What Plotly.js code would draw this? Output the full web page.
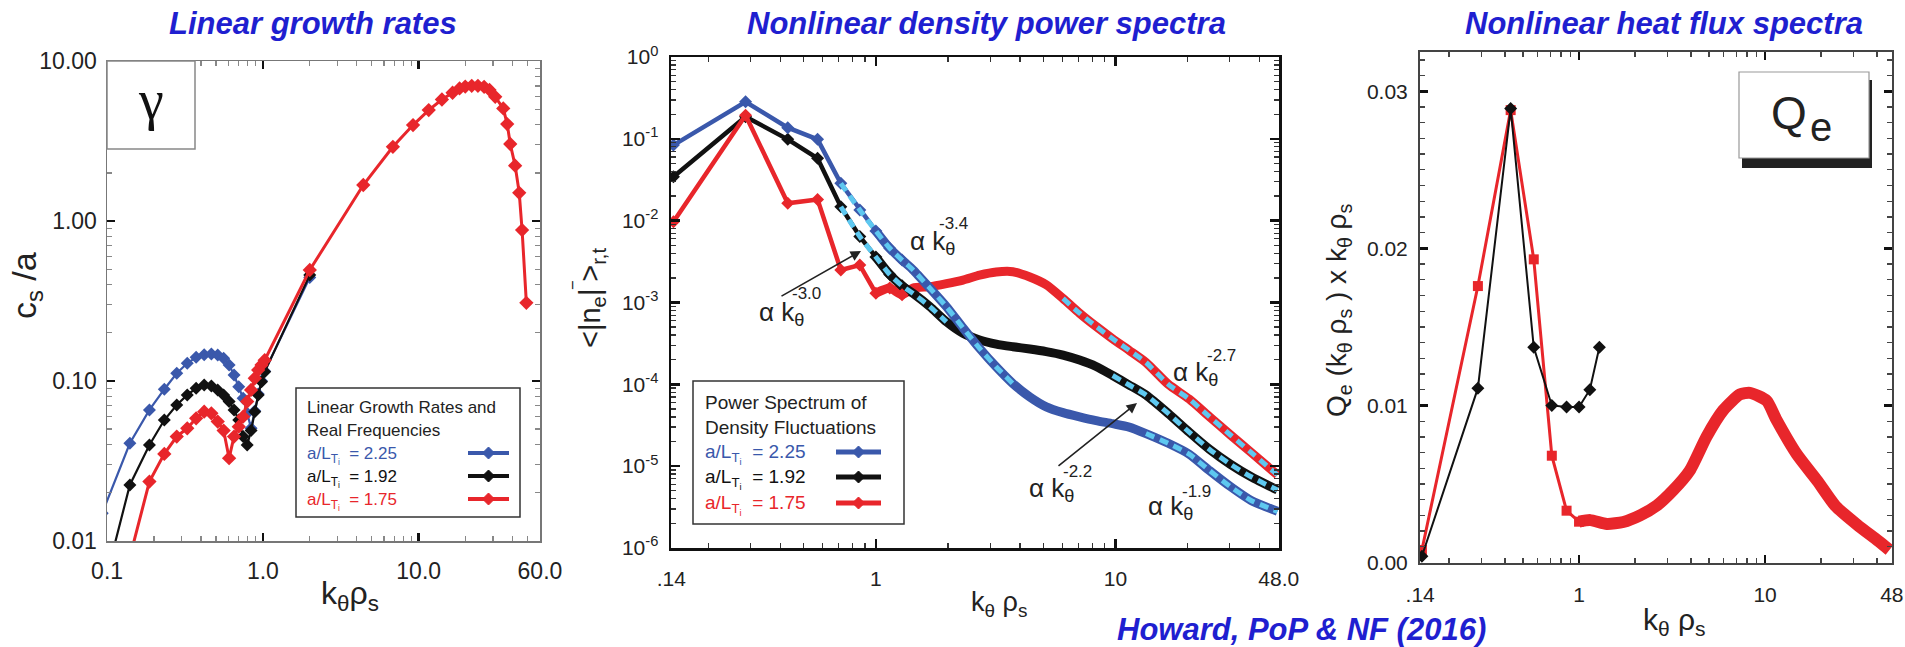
<!DOCTYPE html>
<html><head><meta charset="utf-8">
<script src="https://cdn.plot.ly/plotly-3.0.1.min.js"></script>
<style>html,body{margin:0;padding:0;background:#fff;}#chart{width:1905px;height:647px;}</style>
</head><body><div id="chart"></div>
<script>
// ---------- Panel 1: linear growth rates ----------
const k1 = [0.093, 0.14, 0.187, 0.233, 0.28, 0.327, 0.373, 0.42, 0.467, 0.513, 0.56, 0.607, 0.653, 0.70, 0.747, 0.793, 0.84, 0.887, 0.933, 0.98, 1.027, 2.0];
const gamma225 = [0.0149, 0.0408, 0.0659, 0.0888, 0.1117, 0.129, 0.1407, 0.146, 0.1475, 0.1454, 0.1386, 0.126, 0.109, 0.092, 0.078, 0.0628, 0.0506, 0.065, 0.083, 0.100, 0.115, 0.443];
const gamma192 = [0.0047, 0.0224, 0.0398, 0.057, 0.0708, 0.0818, 0.090, 0.0944, 0.093, 0.0879, 0.0818, 0.0743, 0.0659, 0.057, 0.0449, 0.0398, 0.049, 0.0643, 0.0818, 0.099, 0.114, 0.46];
const k1Red = [0.14, 0.187, 0.233, 0.28, 0.327, 0.373, 0.42, 0.467, 0.513, 0.56, 0.607, 0.653, 0.70, 0.747, 0.793, 0.84, 0.887, 0.933, 0.98, 1.027, 2.0, 4.41, 6.83, 9.2, 11.6, 14.1, 16.5, 18.3, 19.9, 21.9, 24.0, 26.3, 28.5, 31.0, 34.9, 37.0, 38.7, 41.6, 44.2, 46.1, 49.1];
const gamma175 = [0.0079, 0.0235, 0.035, 0.0449, 0.0506, 0.0584, 0.0643, 0.0628, 0.0557, 0.049, 0.0329, 0.0449, 0.0518, 0.0598, 0.0743, 0.0879, 0.104, 0.117, 0.126, 0.135, 0.494, 1.68, 2.91, 3.98, 4.94, 5.75, 6.34, 6.75, 6.93, 7.0, 7.0, 6.9, 6.6, 5.98, 5.06, 4.04, 3.03, 2.22, 1.50, 0.878, 0.308];

// ---------- Panel 2: density power spectra ----------
const k2Low = [0.143, 0.286, 0.429, 0.571, 0.714, 0.857, 1.0, 1.143, 1.286];
const n225Low = [0.084, 0.284, 0.137, 0.0987, 0.0286, 0.0135, 0.0075, 0.0046, 0.0033];
const n192Low = [0.0345, 0.187, 0.0987, 0.0578, 0.0148, 0.0064, 0.0036, 0.0022, 0.0016];
const n175Low = [0.0097, 0.195, 0.0163, 0.0182, 0.0025, 0.00287, 0.0013, 0.0015, 0.00124];
const k2Hi = [1.43, 1.68, 1.97, 2.31, 2.71, 3.18, 3.73, 4.39, 5.14, 6.04, 7.08, 8.3, 9.73, 11.4, 13.4, 16.6, 20.3, 24.7, 30.2, 36.8, 47.4];
const n225Hi = [0.0025, 0.0015, 0.00089, 0.00049, 0.000275, 0.000163, 0.000102, 7.0e-5, 5.3e-5, 4.5e-5, 4.0e-5, 3.6e-5, 3.3e-5, 3.0e-5, 2.5e-5, 1.9e-5, 1.4e-5, 8.8e-6, 5.6e-6, 3.8e-6, 2.8e-6];
const n192Hi = [0.00129, 0.00089, 0.00058, 0.00042, 0.000348, 0.00031, 0.000288, 0.00027, 0.000251, 0.000228, 0.000198, 0.000165, 0.000128, 9.8e-5, 7.4e-5, 4.4e-5, 2.6e-5, 1.6e-5, 1.05e-5, 7.4e-6, 5.1e-6];
const n175Hi = [0.0015, 0.00156, 0.0017, 0.00188, 0.00216, 0.00236, 0.00238, 0.00205, 0.00165, 0.00112, 0.00074, 0.00051, 0.00036, 0.00026, 0.000185, 0.0001, 6.6e-5, 4.0e-5, 2.4e-5, 1.47e-5, 7.8e-6];
// k ranges of the dashed power-law fits
const fitRanges = {blueA:[0.7,3.8], blueB:[13,48], blackA:[0.7,2.0], blackB:[9.5,48], redA:[6.0,48]};

// ---------- Panel 3: heat flux spectra ----------
const k3Black = [0.143, 0.286, 0.429, 0.571, 0.714, 0.857, 1.0, 1.143, 1.286];
const qBlack = [0.0004, 0.0111, 0.0289, 0.0137, 0.0100, 0.0099, 0.0099, 0.0110, 0.0137];
const k3RedLow = [0.143, 0.286, 0.429, 0.571, 0.714, 0.857, 1.0];
const qRedLow = [0.0008, 0.0176, 0.0288, 0.0193, 0.0068, 0.0033, 0.0026];
const k3RedHi = [1.0, 1.15, 1.41, 1.73, 2.13, 2.62, 3.20, 3.94, 4.84, 5.96, 7.33, 8.3, 10.2, 11.5, 14.8, 19.1, 23.9, 31.3, 40.3, 46.6];
const qRedHi = [0.0026, 0.0027, 0.00246, 0.00258, 0.0030, 0.00363, 0.00459, 0.00586, 0.0080, 0.0097, 0.0107, 0.0108, 0.0103, 0.0091, 0.0069, 0.0052, 0.0036, 0.0024, 0.0014, 0.0008];

// ---------- labels ----------
const titles = ['Linear growth rates', 'Nonlinear density power spectra', 'Nonlinear heat flux spectra'];
const citation = 'Howard, PoP & NF (2016)';
const caseLabels = ['a/L<sub>T<sub>i</sub></sub>  = 2.25', 'a/L<sub>T<sub>i</sub></sub>  = 1.92', 'a/L<sub>T<sub>i</sub></sub>  = 1.75'];
const ticks1x = [0.1, 1, 10, 60], ticks1xText = ['0.1', '1.0', '10.0', '60.0'];
const ticks1y = [0.01, 0.1, 1, 10], ticks1yText = ['0.01', '0.10', '1.00', '10.00'];
const ticks2x = [0.14, 1, 10, 48], ticks2xText = ['.14', '1', '10', '48.0'];
const ticks2y = [1e-6, 1e-5, 1e-4, 1e-3, 1e-2, 1e-1, 1], ticks2yText = ['10<sup>-6</sup>','10<sup>-5</sup>','10<sup>-4</sup>','10<sup>-3</sup>','10<sup>-2</sup>','10<sup>-1</sup>','10<sup>0</sup>'];
const ticks3x = [0.14, 1, 10, 48], ticks3xText = ['.14', '1', '10', '48'];
const ticks3y = [0, 0.01, 0.02, 0.03], ticks3yText = ['0.00', '0.01', '0.02', '0.03'];

// ---------- helpers ----------
const W = 1905, H = 647;
const fx = p => p / W, fy = p => 1 - p / H;
const BLUE = '#3a58ab', RED = '#e8262b', BLACK = '#111111', LBLUE = '#5ec8f0', TBLUE = '#1f1fd0';
const FONT = 'Liberation Sans, Arial, sans-serif';
function logMinor(decMin, decMax) { const v = []; for (let d = decMin; d <= decMax; d++) for (let m = 2; m <= 9; m++) v.push(m * Math.pow(10, d)); return v; }
function seg(ks, vs, r) { const x = [], y = []; ks.forEach((k, i) => { if (k >= r[0] && k <= r[1]) { x.push(k); y.push(vs[i]); } }); return {x, y}; }
const lin3Minor = []; for (let i = 1; i <= 32; i++) if (i % 10) lin3Minor.push(i / 1000);

const traces = [];
// Panel 1
[[k1, gamma225, BLUE, 2.2, 10], [k1, gamma192, BLACK, 2.2, 10], [k1Red, gamma175, RED, 3, 11]].forEach(([x, y, c, w, s]) => {
  traces.push({x, y, xaxis: 'x', yaxis: 'y', type: 'scatter', mode: 'lines+markers',
    line: {color: c, width: w}, marker: {symbol: 'diamond', size: s, color: c}});
});
// Panel 2 bands (dense part)
const k2Band = k2Low.slice(6).concat(k2Hi);
[[n175Low, n175Hi, RED], [n192Low, n192Hi, BLACK], [n225Low, n225Hi, BLUE]].forEach(([lo, hi, c]) => {
  traces.push({x: k2Band, y: lo.slice(6).concat(hi), xaxis: 'x2', yaxis: 'y2', type: 'scatter', mode: 'lines',
    line: {color: c, width: 9, shape: 'spline', smoothing: 0.6}});
});
[[n192Low, BLACK], [n225Low, BLUE], [n175Low, RED]].forEach(([lo, c]) => {
  traces.push({x: k2Low, y: lo, xaxis: 'x2', yaxis: 'y2', type: 'scatter', mode: 'lines+markers',
    line: {color: c, width: 4.5}, marker: {symbol: 'diamond', size: 10, color: c}});
});
const k2All = k2Low.concat(k2Hi);
const fits = [seg(k2All, n225Low.concat(n225Hi), fitRanges.blueA), seg(k2All, n225Low.concat(n225Hi), fitRanges.blueB),
  seg(k2All, n192Low.concat(n192Hi), fitRanges.blackA), seg(k2All, n192Low.concat(n192Hi), fitRanges.blackB),
  seg(k2All, n175Low.concat(n175Hi), fitRanges.redA)];
fits.forEach(f => traces.push({x: f.x, y: f.y, xaxis: 'x2', yaxis: 'y2', type: 'scatter', mode: 'lines',
  line: {color: LBLUE, width: 5, dash: '9px,6px', shape: 'spline', smoothing: 0.6}}));
// Panel 3
traces.push({x: k3RedHi, y: qRedHi, xaxis: 'x3', yaxis: 'y3', type: 'scatter', mode: 'lines',
  line: {color: RED, width: 12, shape: 'spline', smoothing: 0.6}});
traces.push({x: k3RedLow, y: qRedLow, xaxis: 'x3', yaxis: 'y3', type: 'scatter', mode: 'lines+markers',
  line: {color: RED, width: 3}, marker: {symbol: 'square', size: 10, color: RED}});
traces.push({x: k3Black, y: qBlack, xaxis: 'x3', yaxis: 'y3', type: 'scatter', mode: 'lines+markers',
  line: {color: BLACK, width: 2}, marker: {symbol: 'diamond', size: 10, color: BLACK}});

function axis(o) {
  return Object.assign({showgrid: false, zeroline: false, showline: true, mirror: 'ticks', ticks: 'inside',
    tickmode: 'array', fixedrange: true}, o);
}
const L = Math.log10;
const layout = {
  width: W, height: H, margin: {l: 0, r: 0, t: 0, b: 0}, showlegend: false,
  paper_bgcolor: '#fff', plot_bgcolor: '#fff', font: {family: FONT, color: '#222'},
  xaxis: axis({domain: [fx(107), fx(540)], anchor: 'y', type: 'log', range: [-1.0005, L(60) + 0.0005],
    tickvals: ticks1x, ticktext: ticks1xText, ticklen: 8, tickwidth: 2.5, tickcolor: '#111', linecolor: '#777', linewidth: 1.5,
    tickfont: {size: 23, color: '#222'}, ticklabelstandoff: 9,
    minor: {tickmode: 'array', tickvals: logMinor(-1, 1).filter(v => v < 60), ticks: 'inside', ticklen: 5, tickwidth: 1.3, tickcolor: '#888'}}),
  yaxis: axis({domain: [fy(541), fy(61)], anchor: 'x', type: 'log', range: [-2.0005, 1.0005],
    tickvals: ticks1y, ticktext: ticks1yText, ticklen: 8, tickwidth: 2.5, tickcolor: '#111', linecolor: '#777', linewidth: 1.5,
    tickfont: {size: 23, color: '#222'}, ticklabelstandoff: 4,
    minor: {tickmode: 'array', tickvals: logMinor(-2, 0), ticks: 'inside', ticklen: 5, tickwidth: 1.3, tickcolor: '#888'}}),
  xaxis2: axis({domain: [fx(671), fx(1279)], anchor: 'y2', type: 'log', range: [L(0.14) - 0.001, L(48) + 0.001],
    tickvals: ticks2x, ticktext: ticks2xText, ticklen: 9, tickwidth: 2.5, tickcolor: '#111', linecolor: '#111', linewidth: 2.5,
    tickfont: {size: 21, color: '#222'}, ticklabelstandoff: 10,
    minor: {tickmode: 'array', tickvals: logMinor(-1, 1).filter(v => v > 0.14 && v < 48), ticks: 'inside', ticklen: 5, tickwidth: 1.3, tickcolor: '#333'}}),
  yaxis2: axis({domain: [fy(548), fy(57)], anchor: 'x2', type: 'log', range: [-6.001, 0.001],
    tickvals: ticks2y, ticktext: ticks2yText, ticklen: 9, tickwidth: 2.5, tickcolor: '#111', linecolor: '#111', linewidth: 2.5,
    tickfont: {size: 21, color: '#222'}, ticklabelstandoff: 6,
    minor: {tickmode: 'array', tickvals: logMinor(-6, -1), ticks: 'inside', ticklen: 5, tickwidth: 1.3, tickcolor: '#333'}}),
  xaxis3: axis({domain: [fx(1420), fx(1892)], anchor: 'y3', type: 'log', range: [L(0.14) - 0.001, L(48) + 0.001],
    tickvals: ticks3x, ticktext: ticks3xText, ticklen: 8, tickwidth: 2.5, tickcolor: '#111', linecolor: '#444', linewidth: 2,
    tickfont: {size: 21, color: '#222'}, ticklabelstandoff: 12,
    minor: {tickmode: 'array', tickvals: logMinor(-1, 1).filter(v => v > 0.14 && v < 48), ticks: 'inside', ticklen: 5, tickwidth: 1.3, tickcolor: '#444'}}),
  yaxis3: axis({domain: [fy(563), fy(52)], anchor: 'x3', type: 'linear', range: [-0.00003, 0.0325],
    tickvals: ticks3y, ticktext: ticks3yText, ticklen: 8, tickwidth: 2.5, tickcolor: '#111', linecolor: '#444', linewidth: 2,
    tickfont: {size: 21, color: '#222'}, ticklabelstandoff: 6,
    minor: {tickmode: 'array', tickvals: lin3Minor, ticks: 'inside', ticklen: 5, tickwidth: 1.3, tickcolor: '#444'}}),
  annotations: [], shapes: []
};

function ann(text, x, y, o) {
  layout.annotations.push(Object.assign({text, x: fx(x), y: fy(y), xref: 'paper', yref: 'paper', showarrow: false,
    xanchor: 'center', yanchor: 'middle', font: {family: FONT, size: 20, color: '#222'}}, o || {}));
}
function rect(x0, y0, x1, y1, line, fill) {
  layout.shapes.push({type: 'rect', xref: 'paper', yref: 'paper', x0: fx(x0), x1: fx(x1), y0: fy(y1), y1: fy(y0),
    line: line, fillcolor: fill || 'rgba(0,0,0,0)', layer: 'above'});
}
function sample(x0, x1, y, c, w) {
  layout.shapes.push({type: 'line', xref: 'paper', yref: 'paper', x0: fx(x0), x1: fx(x1), y0: fy(y), y1: fy(y), line: {color: c, width: w}, layer: 'above'});
  const cx = (x0 + x1) / 2, s = 6;
  layout.shapes.push({type: 'path', xref: 'paper', yref: 'paper', layer: 'above', fillcolor: c, line: {color: c, width: 1},
    path: `M ${fx(cx)} ${fy(y - s)} L ${fx(cx + s)} ${fy(y)} L ${fx(cx)} ${fy(y + s)} L ${fx(cx - s)} ${fy(y)} Z`});
}

// Titles
const tfont = {family: FONT, size: 31, color: TBLUE};
ann('<b><i>' + titles[0] + '</i></b>', 313, 23, {font: tfont});
ann('<b><i>' + titles[1] + '</i></b>', 986, 23, {font: tfont});
ann('<b><i>' + titles[2] + '</i></b>', 1664, 23, {font: tfont});
ann('<b><i>' + citation + '</i></b>', 1301, 629, {font: tfont});

// Axis titles
ann('k<sub>θ</sub>ρ<sub>s</sub>', 350, 595, {font: {family: FONT, size: 32, color: '#222'}});
ann('c<sub>s</sub> /a', 27, 286, {textangle: -90, font: {family: FONT, size: 34, color: '#222'}});
ann('k<sub>θ</sub> ρ<sub>s</sub>', 999, 604, {font: {family: FONT, size: 27, color: '#222'}});
ann('<|n<sub>e</sub>|<sup>‾</sup>><sub>r,t</sub>', 590, 298, {textangle: -90, font: {family: FONT, size: 29, color: '#222'}});
ann('k<sub>θ</sub> ρ<sub>s</sub>', 1674, 621, {font: {family: FONT, size: 30, color: '#222'}});
ann('Q<sub>e</sub> (k<sub>θ</sub> ρ<sub>s</sub> ) x k<sub>θ</sub> ρ<sub>s</sub>', 1338, 310, {textangle: -90, font: {family: FONT, size: 28, color: '#222'}});

// gamma box (panel 1)
rect(107, 61, 195, 149, {color: '#888', width: 1.5}, '#fff');
ann('γ', 151, 100, {font: {family: 'Liberation Serif, serif', size: 56, color: '#111'}});

// Q_e box (panel 3)
rect(1742, 80, 1872, 168, {color: '#222', width: 0}, '#222');
rect(1739, 72, 1869, 158, {color: '#999', width: 1.2}, '#fff');
ann('Q', 1789, 113, {font: {family: FONT, size: 46, color: '#222'}});
ann('e', 1821, 127, {font: {family: FONT, size: 40, color: '#222'}});

// Legend panel 1
rect(296, 388, 520, 517, {color: '#333', width: 1.5}, '#fff');
const lf1 = {family: FONT, size: 17, color: '#222'};
ann('Linear Growth Rates and', 305, 407, {xanchor: 'left', font: lf1});
ann('Real Frequencies', 305, 430, {xanchor: 'left', font: lf1});
[[BLUE, 455], [BLACK, 478], [RED, 501]].forEach(([c, y], i) => {
  ann(caseLabels[i], 305, y, {xanchor: 'left', font: {family: FONT, size: 17, color: c}});
  sample(468, 509, y - 2, c, 4);
});
// Legend panel 2
rect(693, 381, 904, 524, {color: '#333', width: 1.5}, '#fff');
const lf2 = {family: FONT, size: 19, color: '#222'};
ann('Power Spectrum of', 703, 402, {xanchor: 'left', font: lf2});
ann('Density Fluctuations', 703, 427, {xanchor: 'left', font: lf2});
[[BLUE, 454], [BLACK, 479], [RED, 505]].forEach(([c, y], i) => {
  ann(caseLabels[i], 703, y, {xanchor: 'left', font: {family: FONT, size: 19, color: c}});
  sample(836, 881, y - 2, c, 5);
});

// Power-law labels (panel 2)
const plf = {family: FONT, size: 26, color: '#222'}, psf = {family: FONT, size: 17, color: '#222'};
[['-3.4', 908, 242, 937, 223], ['-3.0', 757, 313, 790, 293], ['-2.7', 1171, 373, 1205, 355],
 ['-2.2', 1027, 489, 1061, 471], ['-1.9', 1146, 507, 1180, 491]].forEach(([e, ax, ay, sx, sy]) => {
  ann('α k<sub>θ</sub>', ax, ay, {xanchor: 'left', font: plf});
  ann(e, sx, sy, {xanchor: 'left', font: psf});
});
// arrows
[[861, 251, 780, 297], [1137, 403, 1057, 467]].forEach(([hx, hy, tx, ty]) => {
  layout.annotations.push({x: fx(hx), y: fy(hy), xref: 'paper', yref: 'paper', text: '', showarrow: true,
    ax: tx - hx, ay: ty - hy, arrowhead: 2, arrowsize: 1.3, arrowwidth: 1.6, arrowcolor: '#222', standoff: 0});
});

Plotly.newPlot('chart', traces, layout, {staticPlot: true, displayModeBar: false});
</script>
</body></html>
